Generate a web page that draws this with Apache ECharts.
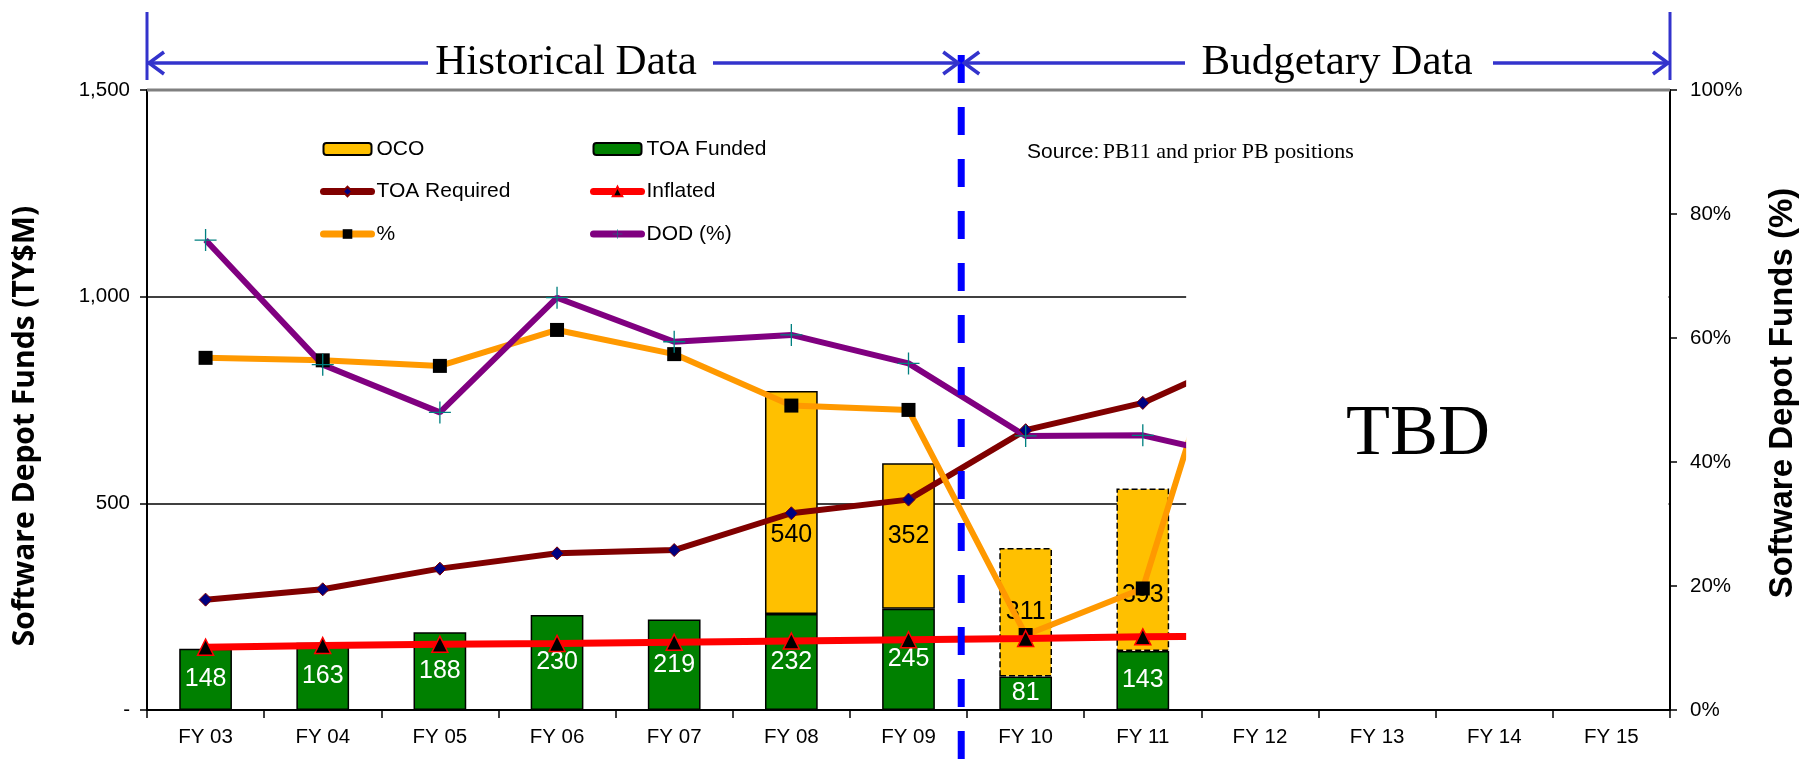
<!DOCTYPE html>
<html><head><meta charset="utf-8">
<script src="https://cdn.jsdelivr.net/npm/echarts@6/dist/echarts.min.js"></script>
<style>html,body{margin:0;padding:0;background:#fff}#c{width:1804px;height:768px}</style>
</head><body><div id="c"></div>
<script>
// ---------- data ----------
const categories = ['FY 03','FY 04','FY 05','FY 06','FY 07','FY 08','FY 09','FY 10','FY 11','FY 12','FY 13','FY 14','FY 15'];
const toaFunded   = [148,163,188,230,219,232,245,81,143,null,null,null,null];
const oco         = [null,null,null,null,null,540,352,311,393,null,null,null,null];
const toaRequired = [267,292,342,379,387,476,509,677,743,871,null,null,null];
const inflated    = [152,156,159,161,164,167,170,173,177,179,null,null,null];
const pctFunded   = [56.8,56.4,55.5,61.3,57.4,49.1,48.4,12.1,19.6,80.3,null,null,null];
const dodPct      = [75.8,55.7,48.0,66.5,59.4,60.5,55.9,44.2,44.3,40.0,null,null,null];
const leftTicks   = [0,500,1000,1500];
const rightTicks  = [0,20,40,60,80,100];
const budgetStartCat = 'FY 10';
const historicalLabel = 'Historical Data';
const budgetaryLabel = 'Budgetary Data';
const leftTitle = 'Software Depot Funds (TY$M)';
const rightTitle = 'Software Depot Funds (%)';

// ---------- styling ----------
const FONT = 'Liberation Sans, Arial, sans-serif';
const SERIF = 'Liberation Serif, Times New Roman, serif';
const budgetStart = categories.indexOf(budgetStartCat);
const ocoLabelShift = {'FY 08': 33, 'FY 11': 25};

const funded = toaFunded.map((v, i) => ({value: v}));
const ocoData = oco.map((v, i) => ({
  value: v,
  itemStyle: i >= budgetStart ? {borderType: 'dashed'} : undefined,
  label: {offset: [0, ocoLabelShift[categories[i]] || 0]}
}));

const plusPath = 'path://M-0.6,-10H0.6V-0.6H10V0.6H0.6V10H-0.6V0.6H-10V-0.6H-0.6Z';
const legendText = {fontFamily: FONT, fontSize: 21, color: '#000', lineHeight: 22};
const legendLine = {width: 7, cap: 'round'};

const option = {
  animation: false,
  backgroundColor: '#fff',
  grid: {left: 147, right: 134, top: 90, bottom: 58, containLabel: false},
  legend: [
    {data: ['OCO', 'TOA Required', '%'], orient: 'vertical', left: 315, top: 133,
     itemWidth: 48, itemHeight: 12, itemGap: 20.5, textStyle: legendText, lineStyle: legendLine},
    {data: ['TOA Funded', 'Inflated', 'DOD (%)'], orient: 'vertical', left: 585, top: 133,
     itemWidth: 48, itemHeight: 12, itemGap: 20.5, textStyle: legendText, lineStyle: legendLine}
  ],
  xAxis: {
    type: 'category', data: categories, boundaryGap: true,
    axisLine: {lineStyle: {color: '#000', width: 2}},
    axisTick: {show: true, length: 8, lineStyle: {color: '#000', width: 1.5}},
    axisLabel: {color: '#000', fontFamily: FONT, fontSize: 20.5, margin: 17}
  },
  yAxis: [
    {type: 'value', min: leftTicks[0], max: leftTicks[leftTicks.length - 1], interval: leftTicks[1] - leftTicks[0],
     axisLine: {show: true, lineStyle: {color: '#000', width: 2}},
     axisTick: {show: true, length: 7, lineStyle: {color: '#000', width: 1.5}},
     splitLine: {show: true, lineStyle: {color: '#000', width: 1.5}},
     axisLabel: {color: '#000', fontFamily: FONT, fontSize: 20.5, margin: 17,
       formatter: v => v === 0 ? '-' : v.toLocaleString('en-US')}},
    {type: 'value', min: rightTicks[0], max: rightTicks[rightTicks.length - 1], interval: rightTicks[1] - rightTicks[0],
     position: 'right',
     axisLine: {show: true, lineStyle: {color: '#000', width: 2}},
     axisTick: {show: true, length: 7, lineStyle: {color: '#000', width: 1.5}},
     splitLine: {show: false},
     axisLabel: {color: '#000', fontFamily: FONT, fontSize: 20.5, margin: 20, formatter: '{value}%'}}
  ],
  series: [
    {name: 'TOA Funded', type: 'bar', stack: 'funds', data: funded, barWidth: '45%', z: 2,
     itemStyle: {color: '#008000', borderColor: '#000', borderWidth: 1.5},
     label: {show: true, position: 'inside', color: '#fff', fontFamily: FONT, fontSize: 25}},
    {name: 'OCO', type: 'bar', stack: 'funds', data: ocoData, barWidth: '45%', z: 2,
     itemStyle: {color: '#FFC000', borderColor: '#000', borderWidth: 1.5},
     label: {show: true, position: 'inside', color: '#000', fontFamily: FONT, fontSize: 25}},
    {name: 'TOA Required', type: 'line', data: toaRequired, yAxisIndex: 0, z: 5,
     lineStyle: {color: '#800000', width: 6}, itemStyle: {color: '#000080', borderColor: '#800000', borderWidth: 1},
     symbol: 'diamond', symbolSize: 13, showAllSymbol: true},
    {name: 'Inflated', type: 'line', data: inflated, yAxisIndex: 0, z: 6,
     lineStyle: {color: '#FF0000', width: 7}, itemStyle: {color: '#000', borderColor: '#FF0000', borderWidth: 1.5},
     symbol: 'triangle', symbolSize: 16, showAllSymbol: true},
    {name: '%', type: 'line', data: pctFunded, yAxisIndex: 1, z: 5,
     lineStyle: {color: '#FF9900', width: 6}, itemStyle: {color: '#000', borderColor: '#000', borderWidth: 0},
     symbol: 'rect', symbolSize: 14, showAllSymbol: true},
    {name: 'DOD (%)', type: 'line', data: dodPct, yAxisIndex: 1, z: 5,
     lineStyle: {color: '#800080', width: 6}, itemStyle: {color: '#008080', borderWidth: 0},
     symbol: plusPath, symbolSize: 22, showAllSymbol: true}
  ]
};

const chart = echarts.init(document.getElementById('c'), null, {renderer: 'canvas'});
chart.setOption(option);

// ---------- overlay annotations ----------
const P = (cat, v, yi) => chart.convertToPixel({xAxisIndex: 0, yAxisIndex: yi || 0}, [cat, v]);
const rect = chart.getModel().getComponent('grid', 0).coordinateSystem.getRect();
const L = rect.x, R = rect.x + rect.width, T = rect.y, B = rect.y + rect.height;
const cw = rect.width / categories.length;
const x09 = P('FY 09', 0)[0], x10 = P('FY 10', 0)[0], x11 = P('FY 11', 0)[0];
const dashX = x09 + (x10 - x09) * 0.45;
const cutX = x11 + cw * 0.37;
const blue = '#3333CC';
const arrowY = 63;

function arrow(x, dir) { // dir -1 points left, +1 points right
  return {type: 'polyline', z: 120, shape: {points: [[x - dir * 15, arrowY - 11], [x, arrowY], [x - dir * 15, arrowY + 11]]},
          style: {stroke: blue, lineWidth: 3.5, fill: null}};
}
const g = [
  {type: 'rect', z: 100, shape: {x: cutX, y: T + 2, width: R - cutX - 1.5, height: B - T - 3}, style: {fill: '#fff'}},
  {type: 'line', z: 110, shape: {x1: L, y1: T, x2: R, y2: T}, style: {stroke: '#808080', lineWidth: 3}},
  {type: 'line', z: 110, shape: {x1: dashX, y1: 55, x2: dashX, y2: 768}, style: {stroke: '#0000FF', lineWidth: 7, lineDash: [28, 24]}},
  {type: 'line', z: 120, shape: {x1: L, y1: 12, x2: L, y2: 80}, style: {stroke: blue, lineWidth: 3}},
  {type: 'line', z: 120, shape: {x1: R, y1: 12, x2: R, y2: 80}, style: {stroke: blue, lineWidth: 3}},
  {type: 'line', z: 120, shape: {x1: L, y1: arrowY, x2: 428, y2: arrowY}, style: {stroke: blue, lineWidth: 3.5}},
  {type: 'line', z: 120, shape: {x1: 713, y1: arrowY, x2: dashX - 3, y2: arrowY}, style: {stroke: blue, lineWidth: 3.5}},
  {type: 'line', z: 120, shape: {x1: dashX + 3, y1: arrowY, x2: 1185, y2: arrowY}, style: {stroke: blue, lineWidth: 3.5}},
  {type: 'line', z: 120, shape: {x1: 1493, y1: arrowY, x2: R, y2: arrowY}, style: {stroke: blue, lineWidth: 3.5}},
  arrow(L + 2, -1), arrow(dashX - 3, 1), arrow(dashX + 3, -1), arrow(R - 2, 1),
  {type: 'text', z: 120, x: 566, y: arrowY, style: {text: historicalLabel, font: '43px ' + SERIF, fill: '#000', align: 'center', verticalAlign: 'middle'}},
  {type: 'text', z: 120, x: 1337, y: arrowY, style: {text: budgetaryLabel, font: '43px ' + SERIF, fill: '#000', align: 'center', verticalAlign: 'middle'}},
  {type: 'text', z: 130, x: 1418, y: 435, style: {text: 'TBD', font: '72px ' + SERIF, fill: '#000', align: 'center', verticalAlign: 'middle'}},
  {type: 'text', z: 130, x: 1027, y: 152, style: {
     text: '{a|Source:} {b|PB11 and prior PB positions}', verticalAlign: 'middle', align: 'left',
     rich: {a: {fontFamily: FONT, fontSize: 21, fill: '#000'}, b: {fontFamily: SERIF, fontSize: 22, fill: '#000'}}}},
  {type: 'text', z: 130, x: 25, y: 426, rotation: Math.PI / 2, style: {text: leftTitle, font: 'bold 30px Open Sans, sans-serif', fill: '#000', align: 'center', verticalAlign: 'middle'}},
  {type: 'text', z: 130, x: 1783, y: 393, rotation: Math.PI / 2, style: {text: rightTitle, font: 'bold 33px ' + FONT, fill: '#000', align: 'center', verticalAlign: 'middle'}}
];
chart.setOption({graphic: g});
</script>
</body></html>
